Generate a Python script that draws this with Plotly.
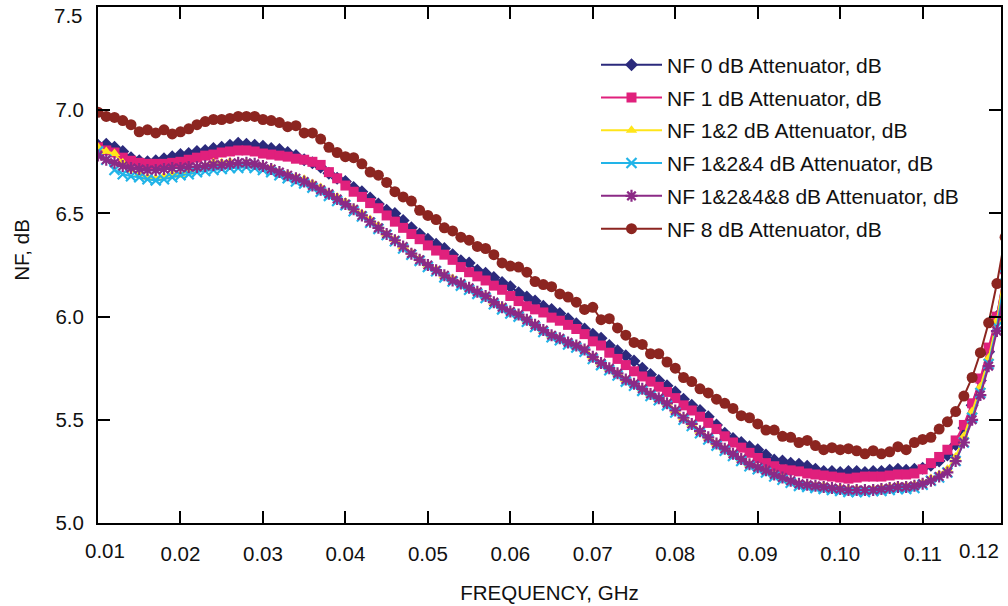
import plotly.graph_objects as go

# Frequency grid, GHz (1 MHz steps, 0.010 .. 0.120)
freq_ghz = [round(0.010 + 0.001 * k, 3) for k in range(111)]

nf_0db = [
    6.83, 6.835, 6.82, 6.80, 6.77, 6.755, 6.75, 6.755, 6.765, 6.775,
    6.785, 6.79, 6.80, 6.805, 6.815, 6.82, 6.83, 6.84, 6.835, 6.83,
    6.825, 6.815, 6.81, 6.795, 6.78, 6.76, 6.745, 6.725, 6.695, 6.67,
    6.655, 6.625, 6.605, 6.575, 6.545, 6.515, 6.50, 6.465, 6.43, 6.40,
    6.375, 6.35, 6.33, 6.30, 6.27, 6.26, 6.225, 6.21, 6.19, 6.165,
    6.145, 6.115, 6.095, 6.075, 6.05, 6.035, 6.015, 5.99, 5.965, 5.94,
    5.915, 5.895, 5.86, 5.835, 5.81, 5.785, 5.75, 5.72, 5.69, 5.665,
    5.635, 5.60, 5.57, 5.545, 5.515, 5.475, 5.435, 5.41, 5.39, 5.37,
    5.355, 5.33, 5.305, 5.30, 5.29, 5.285, 5.275, 5.26, 5.25, 5.25,
    5.245, 5.25, 5.25, 5.245, 5.25, 5.25, 5.255, 5.26, 5.255, 5.26,
    5.265, 5.28, 5.30, 5.33, 5.38, 5.46, 5.57, 5.69, 5.83, 6.00,
    6.22,
]

nf_1db = [
    6.82, 6.805, 6.795, 6.77, 6.755, 6.745, 6.74, 6.74, 6.74, 6.745,
    6.75, 6.76, 6.77, 6.78, 6.785, 6.795, 6.80, 6.805, 6.805, 6.80,
    6.79, 6.785, 6.78, 6.775, 6.765, 6.76, 6.75, 6.735, 6.70, 6.67,
    6.635, 6.605, 6.58, 6.55, 6.525, 6.49, 6.46, 6.43, 6.40, 6.375,
    6.345, 6.32, 6.30, 6.275, 6.24, 6.215, 6.195, 6.175, 6.15, 6.13,
    6.10, 6.075, 6.05, 6.035, 6.02, 5.995, 5.98, 5.96, 5.94, 5.915,
    5.88, 5.86, 5.825, 5.795, 5.765, 5.735, 5.71, 5.685, 5.66, 5.635,
    5.605, 5.57, 5.545, 5.515, 5.485, 5.455, 5.42, 5.39, 5.365, 5.34,
    5.315, 5.29, 5.275, 5.26, 5.255, 5.25, 5.24, 5.235, 5.23, 5.225,
    5.22, 5.215, 5.22, 5.225, 5.225, 5.225, 5.23, 5.235, 5.235, 5.24,
    5.26, 5.29, 5.32, 5.355, 5.40, 5.475, 5.58, 5.70, 5.85, 6.00,
    6.23,
]

nf_12db = [
    6.82, 6.80, 6.79, 6.745, 6.71, 6.69, 6.675, 6.67, 6.68, 6.69,
    6.685, 6.70, 6.715, 6.73, 6.745, 6.745, 6.75, 6.74, 6.745, 6.735,
    6.73, 6.72, 6.70, 6.69, 6.675, 6.665, 6.645, 6.625, 6.60, 6.58,
    6.555, 6.525, 6.50, 6.47, 6.44, 6.40, 6.375, 6.34, 6.31, 6.28,
    6.25, 6.23, 6.20, 6.185, 6.16, 6.14, 6.12, 6.10, 6.07, 6.05,
    6.025, 6.01, 5.985, 5.96, 5.935, 5.91, 5.895, 5.875, 5.86, 5.84,
    5.805, 5.775, 5.75, 5.725, 5.695, 5.675, 5.65, 5.625, 5.60, 5.58,
    5.545, 5.51, 5.48, 5.445, 5.415, 5.385, 5.36, 5.335, 5.31, 5.285,
    5.27, 5.255, 5.235, 5.22, 5.20, 5.19, 5.185, 5.18, 5.18, 5.17,
    5.17, 5.165, 5.165, 5.16, 5.165, 5.17, 5.175, 5.18, 5.18, 5.185,
    5.195, 5.215, 5.235, 5.26, 5.32, 5.42, 5.54, 5.66, 5.80, 5.98,
    6.23,
]

nf_124db = [
    6.80, 6.76, 6.71, 6.69, 6.68, 6.675, 6.665, 6.66, 6.665, 6.675,
    6.685, 6.69, 6.70, 6.705, 6.71, 6.715, 6.72, 6.72, 6.725, 6.72,
    6.71, 6.70, 6.685, 6.67, 6.655, 6.645, 6.625, 6.605, 6.585, 6.56,
    6.54, 6.51, 6.485, 6.455, 6.425, 6.395, 6.365, 6.33, 6.30, 6.27,
    6.24, 6.22, 6.19, 6.17, 6.15, 6.13, 6.11, 6.09, 6.06, 6.035,
    6.015, 6.00, 5.975, 5.95, 5.925, 5.90, 5.885, 5.865, 5.85, 5.83,
    5.795, 5.765, 5.74, 5.715, 5.685, 5.665, 5.64, 5.615, 5.595, 5.57,
    5.535, 5.50, 5.47, 5.435, 5.405, 5.375, 5.35, 5.325, 5.30, 5.275,
    5.26, 5.245, 5.225, 5.21, 5.195, 5.18, 5.175, 5.17, 5.165, 5.16,
    5.155, 5.15, 5.15, 5.15, 5.155, 5.155, 5.16, 5.165, 5.165, 5.17,
    5.185, 5.205, 5.22, 5.245, 5.30, 5.39, 5.51, 5.63, 5.77, 5.95,
    6.20,
]

nf_1248db = [
    6.78, 6.76, 6.745, 6.73, 6.72, 6.715, 6.71, 6.71, 6.715, 6.72,
    6.72, 6.725, 6.725, 6.73, 6.735, 6.735, 6.74, 6.745, 6.745, 6.74,
    6.73, 6.715, 6.70, 6.685, 6.67, 6.655, 6.635, 6.615, 6.595, 6.57,
    6.545, 6.52, 6.49, 6.46, 6.43, 6.40, 6.37, 6.34, 6.305, 6.275,
    6.25, 6.225, 6.20, 6.175, 6.16, 6.14, 6.12, 6.10, 6.07, 6.045,
    6.025, 6.01, 5.985, 5.96, 5.935, 5.91, 5.895, 5.875, 5.86, 5.84,
    5.805, 5.775, 5.75, 5.725, 5.695, 5.675, 5.65, 5.625, 5.605, 5.58,
    5.545, 5.51, 5.48, 5.445, 5.415, 5.385, 5.36, 5.335, 5.31, 5.285,
    5.27, 5.255, 5.235, 5.22, 5.205, 5.19, 5.185, 5.18, 5.175, 5.17,
    5.165, 5.16, 5.16, 5.16, 5.16, 5.165, 5.17, 5.175, 5.175, 5.18,
    5.19, 5.205, 5.225, 5.245, 5.30, 5.39, 5.50, 5.62, 5.76, 5.93,
    6.16,
]

nf_8db = [
    6.99, 6.97, 6.965, 6.95, 6.93, 6.895, 6.905, 6.89, 6.905, 6.885,
    6.895, 6.91, 6.93, 6.945, 6.955, 6.955, 6.96, 6.97, 6.97, 6.97,
    6.955, 6.95, 6.94, 6.92, 6.925, 6.89, 6.89, 6.86, 6.82, 6.795,
    6.775, 6.77, 6.74, 6.70, 6.685, 6.65, 6.605, 6.58, 6.56, 6.515,
    6.49, 6.47, 6.43, 6.415, 6.385, 6.37, 6.34, 6.33, 6.30, 6.26,
    6.245, 6.24, 6.215, 6.17, 6.155, 6.145, 6.11, 6.095, 6.07, 6.035,
    6.045, 5.985, 5.99, 5.945, 5.91, 5.875, 5.865, 5.82, 5.82, 5.78,
    5.75, 5.705, 5.685, 5.65, 5.63, 5.60, 5.58, 5.555, 5.52, 5.51,
    5.48, 5.45, 5.45, 5.42, 5.415, 5.39, 5.40, 5.375, 5.355, 5.365,
    5.355, 5.36, 5.35, 5.335, 5.35, 5.335, 5.345, 5.37, 5.355, 5.39,
    5.405, 5.415, 5.455, 5.49, 5.54, 5.615, 5.705, 5.825, 5.97, 6.16,
    6.385,
]

series_names = [
    "NF 0 dB Attenuator, dB",
    "NF 1 dB Attenuator, dB",
    "NF 1&2 dB Attenuator, dB",
    "NF 1&2&4 dB Attenuator, dB",
    "NF 1&2&4&8 dB Attenuator, dB",
    "NF 8 dB Attenuator, dB",
]
series_values = [nf_0db, nf_1db, nf_12db, nf_124db, nf_1248db, nf_8db]
colors = ["#2B2A7C", "#E0207C", "#FFE51A", "#22B4E8", "#8B2A86", "#8C2520"]
symbols = ["diamond", "square", "triangle-up", "x-thin", "asterisk", "circle"]
sizes = [10, 10, 10, 10, 10, 11]

y_ticks = [5.0, 5.5, 6.0, 6.5, 7.0, 7.5]
y_tick_text = ["5.0", "5.5", "6.0", "6.5", "7.0", ""]
x_ticks = [0.02, 0.03, 0.04, 0.05, 0.06, 0.07, 0.08, 0.09, 0.10, 0.11]
x_tick_text = ["0.02", "0.03", "0.04", "0.05", "0.06", "0.07", "0.08", "0.09", "0.10", "0.11"]

FONT = "Liberation Sans, Arial, Helvetica, sans-serif"
TXT = "#111"
FS = 20.5

# plot-area geometry in pixels (used only to place free texts)
L, R, T, B = 98, 1001, 5.4, 522.7
PW, PH = R - L, B - T

fig = go.Figure()
for name, vals, col, sym, sz in zip(series_names, series_values, colors, symbols, sizes):
    marker = dict(symbol=sym, size=sz, color=col, line=dict(width=0, color=col))
    if sym in ("x-thin", "asterisk"):
        marker = dict(symbol=sym, size=sz, color=col, line=dict(width=2.2, color=col))
    fig.add_trace(go.Scatter(
        x=freq_ghz, y=vals, name=name, mode="lines+markers",
        line=dict(color=col, width=2), marker=marker, legendgroup=name,
    ))

fig.update_layout(
    width=1008, height=606,
    margin=dict(l=L, r=1008 - R, t=T, b=606 - B),
    paper_bgcolor="white", plot_bgcolor="white",
    font=dict(family=FONT, size=FS, color=TXT),
    showlegend=True,
    legend=dict(x=(596 - L) / PW, y=(B - 43) / PH, xanchor="left", yanchor="top",
                bgcolor="rgba(0,0,0,0)", font=dict(size=21, family=FONT, color=TXT),
                itemwidth=61, tracegroupgap=2.5),
)
fig.update_xaxes(
    range=[0.01, 0.1195], tickvals=x_ticks, ticktext=x_tick_text,
    ticks="inside", ticklen=12, tickwidth=1.5, tickcolor="black",
    showline=True, linewidth=2, linecolor="black", mirror="ticks",
    showgrid=False, zeroline=False, ticklabelstandoff=11,
    tickfont=dict(size=FS, family=FONT, color=TXT),
    title=dict(text="FREQUENCY, GHz", standoff=22, font=dict(size=FS, family=FONT, color=TXT)),
)
fig.update_yaxes(
    range=[5.0, 7.5], tickvals=y_ticks, ticktext=y_tick_text,
    ticks="inside", ticklen=12, tickwidth=1.5, tickcolor="black",
    showline=True, linewidth=2, linecolor="black", mirror="ticks",
    showgrid=False, zeroline=False, ticklabelstandoff=8,
    tickfont=dict(size=FS, family=FONT, color=TXT),
)
# End labels of the axes, nudged inside like the original
fig.add_annotation(x=0.01, y=0, xref="x", yref="paper", text="0.01", showarrow=False,
                   xanchor="center", yanchor="middle", xshift=7, yshift=-27.5,
                   font=dict(size=FS, family=FONT, color=TXT))
fig.add_annotation(x=0.1195, y=0, xref="x", yref="paper", text="0.12", showarrow=False,
                   xanchor="right", yanchor="middle", yshift=-27.5,
                   font=dict(size=FS, family=FONT, color=TXT))
fig.add_annotation(x=0, y=7.5, xref="paper", yref="y", text="7.5", showarrow=False,
                   xanchor="right", yanchor="middle", xshift=-13, yshift=-8,
                   font=dict(size=FS, family=FONT, color=TXT))
fig.add_annotation(x=(21.7 - L) / PW, y=(B - 249) / PH, xref="paper", yref="paper", text="NF, dB",
                   textangle=-90, showarrow=False, xanchor="center", yanchor="middle",
                   font=dict(size=FS, family=FONT, color=TXT))

fig.write_html("out.html", config={"displayModeBar": False},
               post_script="document.body.style.margin='0px';document.body.style.overflow='hidden';")
